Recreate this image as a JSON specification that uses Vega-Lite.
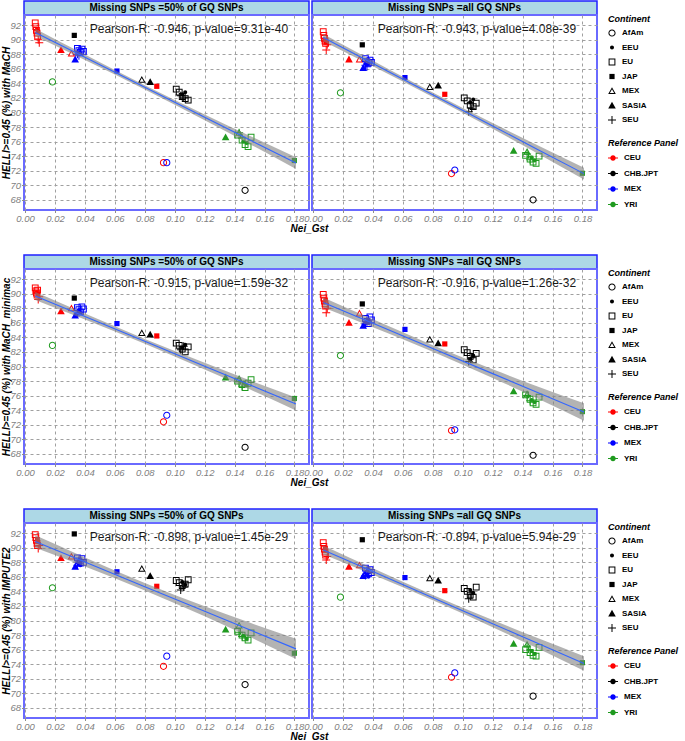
{
"$schema": "https://vega.github.io/schema/vega-lite/v6.json",
"padding": {"left": 0, "top": 0, "right": 2, "bottom": 0},
"columns": 2,
"spacing": {"row": 0, "column": 3},
"bounds": "flush",
"resolve": {"scale": {"fill": "independent", "shape": "independent"}},
"datasets": {
"pts": [
{"p":1,"c":"AfAm","r":"CEU","x":0.0925,"y":73.1},{"p":1,"c":"AfAm","r":"CHB.JPT","x":0.147,"y":69.3},{"p":1,"c":"AfAm","r":"MEX","x":0.0947,"y":73.1},{"p":1,"c":"AfAm","r":"YRI","x":0.0183,"y":84.2},
{"p":1,"c":"JAP","r":"CEU","x":0.088,"y":83.6},{"p":1,"c":"JAP","r":"CHB.JPT","x":0.0329,"y":90.6},{"p":1,"c":"JAP","r":"MEX","x":0.0614,"y":85.7},{"p":1,"c":"JAP","r":"YRI","x":0.1799,"y":73.4},
{"p":1,"c":"SASIA","r":"CEU","x":0.024,"y":88.6},{"p":1,"c":"SASIA","r":"CHB.JPT","x":0.0836,"y":84.2},{"p":1,"c":"SASIA","r":"MEX","x":0.0335,"y":87.3},{"p":1,"c":"SASIA","r":"YRI","x":0.134,"y":76.6},
{"p":1,"c":"MEX","r":"CEU","x":0.031,"y":88.1},{"p":1,"c":"MEX","r":"CHB.JPT","x":0.078,"y":84.5},{"p":1,"c":"MEX","r":"MEX","x":0.036,"y":88.4},{"p":1,"c":"MEX","r":"YRI","x":0.143,"y":77.2},
{"p":1,"c":"EU","r":"CEU","x":0.0068,"y":92.3},{"p":1,"c":"EU","r":"CEU","x":0.0072,"y":91.8},{"p":1,"c":"EU","r":"CEU","x":0.0076,"y":91.3},{"p":1,"c":"EU","r":"CEU","x":0.008,"y":90.9},{"p":1,"c":"EU","r":"CEU","x":0.0084,"y":90.5},
{"p":1,"c":"EU","r":"CHB.JPT","x":0.101,"y":83.2},{"p":1,"c":"EU","r":"CHB.JPT","x":0.103,"y":82.8},{"p":1,"c":"EU","r":"CHB.JPT","x":0.105,"y":82.2},{"p":1,"c":"EU","r":"CHB.JPT","x":0.107,"y":81.9},{"p":1,"c":"EU","r":"CHB.JPT","x":0.109,"y":81.7},
{"p":1,"c":"EU","r":"MEX","x":0.035,"y":88.8},{"p":1,"c":"EU","r":"MEX","x":0.036,"y":88.5},{"p":1,"c":"EU","r":"MEX","x":0.037,"y":88.3},{"p":1,"c":"EU","r":"MEX","x":0.038,"y":88.7},{"p":1,"c":"EU","r":"MEX","x":0.039,"y":88.4},
{"p":1,"c":"EU","r":"YRI","x":0.142,"y":76.9},{"p":1,"c":"EU","r":"YRI","x":0.145,"y":76.2},{"p":1,"c":"EU","r":"YRI","x":0.147,"y":75.6},{"p":1,"c":"EU","r":"YRI","x":0.149,"y":75.3},{"p":1,"c":"EU","r":"YRI","x":0.151,"y":76.6},
{"p":1,"c":"EEU","r":"CEU","x":0.0078,"y":91.4},{"p":1,"c":"EEU","r":"CEU","x":0.0082,"y":91.0},{"p":1,"c":"EEU","r":"CHB.JPT","x":0.105,"y":82.5},{"p":1,"c":"EEU","r":"CHB.JPT","x":0.107,"y":82.8},
{"p":1,"c":"EEU","r":"MEX","x":0.036,"y":88.2},{"p":1,"c":"EEU","r":"MEX","x":0.037,"y":88.0},{"p":1,"c":"EEU","r":"YRI","x":0.146,"y":76.0},{"p":1,"c":"EEU","r":"YRI","x":0.148,"y":75.8},
{"p":1,"c":"SEU","r":"CEU","x":0.0088,"y":90.0},{"p":1,"c":"SEU","r":"CEU","x":0.0095,"y":89.6},{"p":1,"c":"SEU","r":"CHB.JPT","x":0.104,"y":82.3},{"p":1,"c":"SEU","r":"CHB.JPT","x":0.106,"y":82.0},
{"p":1,"c":"SEU","r":"MEX","x":0.035,"y":88.0},{"p":1,"c":"SEU","r":"MEX","x":0.036,"y":87.8},{"p":1,"c":"SEU","r":"YRI","x":0.143,"y":77.2},{"p":1,"c":"SEU","r":"YRI","x":0.145,"y":76.5},

{"p":2,"c":"AfAm","r":"CEU","x":0.0925,"y":71.6},{"p":2,"c":"AfAm","r":"CHB.JPT","x":0.147,"y":68.0},{"p":2,"c":"AfAm","r":"MEX","x":0.0947,"y":72.1},{"p":2,"c":"AfAm","r":"YRI","x":0.0183,"y":82.7},
{"p":2,"c":"JAP","r":"CEU","x":0.088,"y":82.5},{"p":2,"c":"JAP","r":"CHB.JPT","x":0.0329,"y":89.3},{"p":2,"c":"JAP","r":"MEX","x":0.0614,"y":84.8},{"p":2,"c":"JAP","r":"YRI","x":0.1799,"y":71.65},
{"p":2,"c":"SASIA","r":"CEU","x":0.024,"y":87.3},{"p":2,"c":"SASIA","r":"CHB.JPT","x":0.0836,"y":83.7},{"p":2,"c":"SASIA","r":"MEX","x":0.0335,"y":86.1},{"p":2,"c":"SASIA","r":"YRI","x":0.134,"y":74.75},
{"p":2,"c":"MEX","r":"CEU","x":0.031,"y":87.3},{"p":2,"c":"MEX","r":"CHB.JPT","x":0.078,"y":83.5},{"p":2,"c":"MEX","r":"MEX","x":0.036,"y":87.0},{"p":2,"c":"MEX","r":"YRI","x":0.143,"y":74.6},
{"p":2,"c":"EU","r":"CEU","x":0.0068,"y":91.1},{"p":2,"c":"EU","r":"CEU","x":0.0072,"y":90.6},{"p":2,"c":"EU","r":"CEU","x":0.0076,"y":90.2},{"p":2,"c":"EU","r":"CEU","x":0.008,"y":89.8},{"p":2,"c":"EU","r":"CEU","x":0.0084,"y":89.5},
{"p":2,"c":"EU","r":"CHB.JPT","x":0.101,"y":82.0},{"p":2,"c":"EU","r":"CHB.JPT","x":0.103,"y":81.6},{"p":2,"c":"EU","r":"CHB.JPT","x":0.105,"y":81.0},{"p":2,"c":"EU","r":"CHB.JPT","x":0.107,"y":80.8},{"p":2,"c":"EU","r":"CHB.JPT","x":0.109,"y":81.3},
{"p":2,"c":"EU","r":"MEX","x":0.035,"y":87.4},{"p":2,"c":"EU","r":"MEX","x":0.036,"y":87.0},{"p":2,"c":"EU","r":"MEX","x":0.037,"y":86.8},{"p":2,"c":"EU","r":"MEX","x":0.038,"y":87.2},{"p":2,"c":"EU","r":"MEX","x":0.039,"y":86.9},
{"p":2,"c":"EU","r":"YRI","x":0.142,"y":74.1},{"p":2,"c":"EU","r":"YRI","x":0.145,"y":73.6},{"p":2,"c":"EU","r":"YRI","x":0.147,"y":73.2},{"p":2,"c":"EU","r":"YRI","x":0.149,"y":73.0},{"p":2,"c":"EU","r":"YRI","x":0.151,"y":74.0},
{"p":2,"c":"EEU","r":"CEU","x":0.0078,"y":90.0},{"p":2,"c":"EEU","r":"CEU","x":0.0082,"y":89.6},{"p":2,"c":"EEU","r":"CHB.JPT","x":0.105,"y":81.4},{"p":2,"c":"EEU","r":"CHB.JPT","x":0.107,"y":81.8},
{"p":2,"c":"EEU","r":"MEX","x":0.036,"y":86.6},{"p":2,"c":"EEU","r":"MEX","x":0.037,"y":86.9},{"p":2,"c":"EEU","r":"YRI","x":0.146,"y":73.8},{"p":2,"c":"EEU","r":"YRI","x":0.148,"y":73.4},
{"p":2,"c":"SEU","r":"CEU","x":0.0088,"y":88.6},{"p":2,"c":"SEU","r":"CEU","x":0.0095,"y":89.3},{"p":2,"c":"SEU","r":"CHB.JPT","x":0.104,"y":80.1},{"p":2,"c":"SEU","r":"CHB.JPT","x":0.106,"y":80.6},
{"p":2,"c":"SEU","r":"MEX","x":0.035,"y":86.5},{"p":2,"c":"SEU","r":"MEX","x":0.036,"y":86.3},{"p":2,"c":"SEU","r":"YRI","x":0.143,"y":74.3},{"p":2,"c":"SEU","r":"YRI","x":0.145,"y":73.5},

{"p":3,"c":"AfAm","r":"CEU","x":0.0925,"y":72.4},{"p":3,"c":"AfAm","r":"CHB.JPT","x":0.147,"y":68.9},{"p":3,"c":"AfAm","r":"MEX","x":0.0947,"y":73.3},{"p":3,"c":"AfAm","r":"YRI","x":0.0183,"y":82.9},
{"p":3,"c":"JAP","r":"CEU","x":0.088,"y":84.2},{"p":3,"c":"JAP","r":"CHB.JPT","x":0.0329,"y":89.4},{"p":3,"c":"JAP","r":"MEX","x":0.0614,"y":85.9},{"p":3,"c":"JAP","r":"YRI","x":0.1799,"y":75.6},
{"p":3,"c":"SASIA","r":"CEU","x":0.024,"y":87.6},{"p":3,"c":"SASIA","r":"CHB.JPT","x":0.0836,"y":84.4},{"p":3,"c":"SASIA","r":"MEX","x":0.0335,"y":87.0},{"p":3,"c":"SASIA","r":"YRI","x":0.134,"y":78.5},
{"p":3,"c":"MEX","r":"CEU","x":0.031,"y":88.0},{"p":3,"c":"MEX","r":"CHB.JPT","x":0.078,"y":84.6},{"p":3,"c":"MEX","r":"MEX","x":0.036,"y":87.6},{"p":3,"c":"MEX","r":"YRI","x":0.143,"y":78.3},
{"p":3,"c":"EU","r":"CEU","x":0.0068,"y":90.8},{"p":3,"c":"EU","r":"CEU","x":0.0072,"y":90.4},{"p":3,"c":"EU","r":"CEU","x":0.0076,"y":90.1},{"p":3,"c":"EU","r":"CEU","x":0.008,"y":89.8},{"p":3,"c":"EU","r":"CEU","x":0.0084,"y":90.5},
{"p":3,"c":"EU","r":"CHB.JPT","x":0.101,"y":83.2},{"p":3,"c":"EU","r":"CHB.JPT","x":0.103,"y":82.9},{"p":3,"c":"EU","r":"CHB.JPT","x":0.105,"y":82.4},{"p":3,"c":"EU","r":"CHB.JPT","x":0.107,"y":82.0},{"p":3,"c":"EU","r":"CHB.JPT","x":0.109,"y":82.7},
{"p":3,"c":"EU","r":"MEX","x":0.035,"y":88.1},{"p":3,"c":"EU","r":"MEX","x":0.036,"y":87.8},{"p":3,"c":"EU","r":"MEX","x":0.037,"y":87.5},{"p":3,"c":"EU","r":"MEX","x":0.038,"y":88.2},{"p":3,"c":"EU","r":"MEX","x":0.039,"y":87.9},
{"p":3,"c":"EU","r":"YRI","x":0.142,"y":78.0},{"p":3,"c":"EU","r":"YRI","x":0.145,"y":77.5},{"p":3,"c":"EU","r":"YRI","x":0.147,"y":77.1},{"p":3,"c":"EU","r":"YRI","x":0.149,"y":77.7},{"p":3,"c":"EU","r":"YRI","x":0.151,"y":78.2},
{"p":3,"c":"EEU","r":"CEU","x":0.0078,"y":90.2},{"p":3,"c":"EEU","r":"CEU","x":0.0082,"y":89.9},{"p":3,"c":"EEU","r":"CHB.JPT","x":0.105,"y":82.6},{"p":3,"c":"EEU","r":"CHB.JPT","x":0.107,"y":83.0},
{"p":3,"c":"EEU","r":"MEX","x":0.036,"y":87.6},{"p":3,"c":"EEU","r":"MEX","x":0.037,"y":87.3},{"p":3,"c":"EEU","r":"YRI","x":0.146,"y":77.8},{"p":3,"c":"EEU","r":"YRI","x":0.148,"y":77.4},
{"p":3,"c":"SEU","r":"CEU","x":0.0088,"y":89.2},{"p":3,"c":"SEU","r":"CEU","x":0.0095,"y":89.6},{"p":3,"c":"SEU","r":"CHB.JPT","x":0.104,"y":82.3},{"p":3,"c":"SEU","r":"CHB.JPT","x":0.106,"y":82.8},
{"p":3,"c":"SEU","r":"MEX","x":0.035,"y":87.2},{"p":3,"c":"SEU","r":"MEX","x":0.036,"y":87.4},{"p":3,"c":"SEU","r":"YRI","x":0.143,"y":77.9},{"p":3,"c":"SEU","r":"YRI","x":0.145,"y":77.3},

{"p":4,"c":"AfAm","r":"CEU","x":0.0925,"y":71.2},{"p":4,"c":"AfAm","r":"CHB.JPT","x":0.147,"y":67.8},{"p":4,"c":"AfAm","r":"MEX","x":0.0947,"y":71.3},{"p":4,"c":"AfAm","r":"YRI","x":0.0183,"y":81.5},
{"p":4,"c":"JAP","r":"CEU","x":0.088,"y":83.1},{"p":4,"c":"JAP","r":"CHB.JPT","x":0.0329,"y":88.6},{"p":4,"c":"JAP","r":"MEX","x":0.0614,"y":85.1},{"p":4,"c":"JAP","r":"YRI","x":0.1799,"y":73.8},
{"p":4,"c":"SASIA","r":"CEU","x":0.024,"y":86.0},{"p":4,"c":"SASIA","r":"CHB.JPT","x":0.0836,"y":83.2},{"p":4,"c":"SASIA","r":"MEX","x":0.0335,"y":85.6},{"p":4,"c":"SASIA","r":"YRI","x":0.134,"y":76.6},
{"p":4,"c":"MEX","r":"CEU","x":0.031,"y":87.3},{"p":4,"c":"MEX","r":"CHB.JPT","x":0.078,"y":83.7},{"p":4,"c":"MEX","r":"MEX","x":0.036,"y":86.3},{"p":4,"c":"MEX","r":"YRI","x":0.143,"y":76.2},
{"p":4,"c":"EU","r":"CEU","x":0.0068,"y":89.9},{"p":4,"c":"EU","r":"CEU","x":0.0072,"y":89.4},{"p":4,"c":"EU","r":"CEU","x":0.0076,"y":89.0},{"p":4,"c":"EU","r":"CEU","x":0.008,"y":88.6},{"p":4,"c":"EU","r":"CEU","x":0.0084,"y":88.3},
{"p":4,"c":"EU","r":"CHB.JPT","x":0.101,"y":82.3},{"p":4,"c":"EU","r":"CHB.JPT","x":0.103,"y":81.9},{"p":4,"c":"EU","r":"CHB.JPT","x":0.105,"y":81.4},{"p":4,"c":"EU","r":"CHB.JPT","x":0.107,"y":80.9},{"p":4,"c":"EU","r":"CHB.JPT","x":0.109,"y":81.8},
{"p":4,"c":"EU","r":"MEX","x":0.035,"y":86.6},{"p":4,"c":"EU","r":"MEX","x":0.036,"y":86.2},{"p":4,"c":"EU","r":"MEX","x":0.037,"y":85.9},{"p":4,"c":"EU","r":"MEX","x":0.038,"y":86.8},{"p":4,"c":"EU","r":"MEX","x":0.039,"y":86.4},
{"p":4,"c":"EU","r":"YRI","x":0.142,"y":76.1},{"p":4,"c":"EU","r":"YRI","x":0.145,"y":75.5},{"p":4,"c":"EU","r":"YRI","x":0.147,"y":75.0},{"p":4,"c":"EU","r":"YRI","x":0.149,"y":74.8},{"p":4,"c":"EU","r":"YRI","x":0.151,"y":75.8},
{"p":4,"c":"EEU","r":"CEU","x":0.0078,"y":88.8},{"p":4,"c":"EEU","r":"CEU","x":0.0082,"y":89.2},{"p":4,"c":"EEU","r":"CHB.JPT","x":0.105,"y":81.0},{"p":4,"c":"EEU","r":"CHB.JPT","x":0.107,"y":81.5},
{"p":4,"c":"EEU","r":"MEX","x":0.036,"y":86.0},{"p":4,"c":"EEU","r":"MEX","x":0.037,"y":86.4},{"p":4,"c":"EEU","r":"YRI","x":0.146,"y":75.4},{"p":4,"c":"EEU","r":"YRI","x":0.148,"y":75.1},
{"p":4,"c":"SEU","r":"CEU","x":0.0088,"y":87.4},{"p":4,"c":"SEU","r":"CEU","x":0.0095,"y":88.0},{"p":4,"c":"SEU","r":"CHB.JPT","x":0.104,"y":80.7},{"p":4,"c":"SEU","r":"CHB.JPT","x":0.106,"y":81.2},
{"p":4,"c":"SEU","r":"MEX","x":0.035,"y":85.8},{"p":4,"c":"SEU","r":"MEX","x":0.036,"y":86.1},{"p":4,"c":"SEU","r":"YRI","x":0.143,"y":76.0},{"p":4,"c":"SEU","r":"YRI","x":0.145,"y":75.3},

{"p":5,"c":"AfAm","r":"CEU","x":0.0925,"y":73.7},{"p":5,"c":"AfAm","r":"CHB.JPT","x":0.147,"y":71.2},{"p":5,"c":"AfAm","r":"MEX","x":0.0947,"y":75.1},{"p":5,"c":"AfAm","r":"YRI","x":0.0183,"y":84.5},
{"p":5,"c":"JAP","r":"CEU","x":0.088,"y":84.7},{"p":5,"c":"JAP","r":"CHB.JPT","x":0.0329,"y":91.9},{"p":5,"c":"JAP","r":"MEX","x":0.0614,"y":86.7},{"p":5,"c":"JAP","r":"YRI","x":0.1799,"y":75.5},
{"p":5,"c":"SASIA","r":"CEU","x":0.024,"y":88.6},{"p":5,"c":"SASIA","r":"CHB.JPT","x":0.0836,"y":86.1},{"p":5,"c":"SASIA","r":"MEX","x":0.0335,"y":87.4},{"p":5,"c":"SASIA","r":"YRI","x":0.134,"y":78.75},
{"p":5,"c":"MEX","r":"CEU","x":0.031,"y":88.8},{"p":5,"c":"MEX","r":"CHB.JPT","x":0.078,"y":87.1},{"p":5,"c":"MEX","r":"MEX","x":0.036,"y":88.2},{"p":5,"c":"MEX","r":"YRI","x":0.143,"y":79.3},
{"p":5,"c":"EU","r":"CEU","x":0.0068,"y":91.8},{"p":5,"c":"EU","r":"CEU","x":0.0072,"y":91.4},{"p":5,"c":"EU","r":"CEU","x":0.0076,"y":91.0},{"p":5,"c":"EU","r":"CEU","x":0.008,"y":90.6},{"p":5,"c":"EU","r":"CEU","x":0.0084,"y":90.3},
{"p":5,"c":"EU","r":"CHB.JPT","x":0.101,"y":85.5},{"p":5,"c":"EU","r":"CHB.JPT","x":0.103,"y":85.2},{"p":5,"c":"EU","r":"CHB.JPT","x":0.105,"y":84.8},{"p":5,"c":"EU","r":"CHB.JPT","x":0.107,"y":85.0},{"p":5,"c":"EU","r":"CHB.JPT","x":0.109,"y":85.6},
{"p":5,"c":"EU","r":"MEX","x":0.035,"y":88.6},{"p":5,"c":"EU","r":"MEX","x":0.036,"y":88.2},{"p":5,"c":"EU","r":"MEX","x":0.037,"y":87.9},{"p":5,"c":"EU","r":"MEX","x":0.038,"y":88.5},{"p":5,"c":"EU","r":"MEX","x":0.039,"y":88.0},
{"p":5,"c":"EU","r":"YRI","x":0.142,"y":78.5},{"p":5,"c":"EU","r":"YRI","x":0.145,"y":78.0},{"p":5,"c":"EU","r":"YRI","x":0.147,"y":77.6},{"p":5,"c":"EU","r":"YRI","x":0.149,"y":77.3},{"p":5,"c":"EU","r":"YRI","x":0.151,"y":78.3},
{"p":5,"c":"EEU","r":"CEU","x":0.0078,"y":91.2},{"p":5,"c":"EEU","r":"CEU","x":0.0082,"y":90.8},{"p":5,"c":"EEU","r":"CHB.JPT","x":0.105,"y":85.3},{"p":5,"c":"EEU","r":"CHB.JPT","x":0.107,"y":84.9},
{"p":5,"c":"EEU","r":"MEX","x":0.036,"y":87.8},{"p":5,"c":"EEU","r":"MEX","x":0.037,"y":87.6},{"p":5,"c":"EEU","r":"YRI","x":0.146,"y":77.9},{"p":5,"c":"EEU","r":"YRI","x":0.148,"y":77.5},
{"p":5,"c":"SEU","r":"CEU","x":0.0088,"y":89.9},{"p":5,"c":"SEU","r":"CEU","x":0.0095,"y":90.3},{"p":5,"c":"SEU","r":"CHB.JPT","x":0.104,"y":84.2},{"p":5,"c":"SEU","r":"CHB.JPT","x":0.106,"y":84.6},
{"p":5,"c":"SEU","r":"MEX","x":0.035,"y":87.6},{"p":5,"c":"SEU","r":"MEX","x":0.036,"y":87.9},{"p":5,"c":"SEU","r":"YRI","x":0.143,"y":78.4},{"p":5,"c":"SEU","r":"YRI","x":0.145,"y":77.8},

{"p":6,"c":"AfAm","r":"CEU","x":0.0925,"y":72.2},{"p":6,"c":"AfAm","r":"CHB.JPT","x":0.147,"y":69.6},{"p":6,"c":"AfAm","r":"MEX","x":0.0947,"y":72.8},{"p":6,"c":"AfAm","r":"YRI","x":0.0183,"y":83.2},
{"p":6,"c":"JAP","r":"CEU","x":0.088,"y":84.1},{"p":6,"c":"JAP","r":"CHB.JPT","x":0.0329,"y":91.1},{"p":6,"c":"JAP","r":"MEX","x":0.0614,"y":85.9},{"p":6,"c":"JAP","r":"YRI","x":0.1799,"y":74.2},
{"p":6,"c":"SASIA","r":"CEU","x":0.024,"y":87.4},{"p":6,"c":"SASIA","r":"CHB.JPT","x":0.0836,"y":85.5},{"p":6,"c":"SASIA","r":"MEX","x":0.0335,"y":86.1},{"p":6,"c":"SASIA","r":"YRI","x":0.134,"y":76.8},
{"p":6,"c":"MEX","r":"CEU","x":0.031,"y":87.6},{"p":6,"c":"MEX","r":"CHB.JPT","x":0.078,"y":85.8},{"p":6,"c":"MEX","r":"MEX","x":0.036,"y":86.8},{"p":6,"c":"MEX","r":"YRI","x":0.143,"y":76.7},
{"p":6,"c":"EU","r":"CEU","x":0.0068,"y":90.7},{"p":6,"c":"EU","r":"CEU","x":0.0072,"y":90.2},{"p":6,"c":"EU","r":"CEU","x":0.0076,"y":89.8},{"p":6,"c":"EU","r":"CEU","x":0.008,"y":89.4},{"p":6,"c":"EU","r":"CEU","x":0.0084,"y":89.0},
{"p":6,"c":"EU","r":"CHB.JPT","x":0.101,"y":84.4},{"p":6,"c":"EU","r":"CHB.JPT","x":0.103,"y":84.0},{"p":6,"c":"EU","r":"CHB.JPT","x":0.105,"y":83.5},{"p":6,"c":"EU","r":"CHB.JPT","x":0.107,"y":83.2},{"p":6,"c":"EU","r":"CHB.JPT","x":0.109,"y":84.6},
{"p":6,"c":"EU","r":"MEX","x":0.035,"y":87.2},{"p":6,"c":"EU","r":"MEX","x":0.036,"y":86.8},{"p":6,"c":"EU","r":"MEX","x":0.037,"y":86.4},{"p":6,"c":"EU","r":"MEX","x":0.038,"y":87.0},{"p":6,"c":"EU","r":"MEX","x":0.039,"y":86.6},
{"p":6,"c":"EU","r":"YRI","x":0.142,"y":76.0},{"p":6,"c":"EU","r":"YRI","x":0.145,"y":75.6},{"p":6,"c":"EU","r":"YRI","x":0.147,"y":75.2},{"p":6,"c":"EU","r":"YRI","x":0.149,"y":75.1},{"p":6,"c":"EU","r":"YRI","x":0.151,"y":76.3},
{"p":6,"c":"EEU","r":"CEU","x":0.0078,"y":90.0},{"p":6,"c":"EEU","r":"CEU","x":0.0082,"y":89.6},{"p":6,"c":"EEU","r":"CHB.JPT","x":0.105,"y":84.2},{"p":6,"c":"EEU","r":"CHB.JPT","x":0.107,"y":83.8},
{"p":6,"c":"EEU","r":"MEX","x":0.036,"y":86.3},{"p":6,"c":"EEU","r":"MEX","x":0.037,"y":86.0},{"p":6,"c":"EEU","r":"YRI","x":0.146,"y":75.8},{"p":6,"c":"EEU","r":"YRI","x":0.148,"y":75.4},
{"p":6,"c":"SEU","r":"CEU","x":0.0088,"y":88.3},{"p":6,"c":"SEU","r":"CEU","x":0.0095,"y":88.8},{"p":6,"c":"SEU","r":"CHB.JPT","x":0.104,"y":83.0},{"p":6,"c":"SEU","r":"CHB.JPT","x":0.106,"y":83.6},
{"p":6,"c":"SEU","r":"MEX","x":0.035,"y":86.2},{"p":6,"c":"SEU","r":"MEX","x":0.036,"y":86.5},{"p":6,"c":"SEU","r":"YRI","x":0.143,"y":76.5},{"p":6,"c":"SEU","r":"YRI","x":0.145,"y":75.9}
],
"fit": [
{"p":1,"x":0.0068,"f":91.0,"lo":90.5,"hi":91.5},{"p":1,"x":0.04,"f":87.58,"lo":87.2,"hi":87.96},{"p":1,"x":0.08,"f":83.46,"lo":83.16,"hi":83.76},{"p":1,"x":0.12,"f":79.34,"lo":78.94,"hi":79.74},{"p":1,"x":0.15,"f":76.24,"lo":75.68,"hi":76.8},{"p":1,"x":0.181,"f":73.05,"lo":72.25,"hi":73.85},
{"p":2,"x":0.0068,"f":90.3,"lo":89.8,"hi":90.8},{"p":2,"x":0.04,"f":86.74,"lo":86.36,"hi":87.12},{"p":2,"x":0.08,"f":82.44,"lo":82.14,"hi":82.74},{"p":2,"x":0.12,"f":78.15,"lo":77.75,"hi":78.55},{"p":2,"x":0.15,"f":74.93,"lo":74.37,"hi":75.49},{"p":2,"x":0.181,"f":71.6,"lo":70.8,"hi":72.4},
{"p":3,"x":0.0068,"f":89.7,"lo":89.15,"hi":90.25},{"p":3,"x":0.04,"f":86.87,"lo":86.45,"hi":87.29},{"p":3,"x":0.08,"f":83.46,"lo":83.13,"hi":83.79},{"p":3,"x":0.12,"f":80.05,"lo":79.6,"hi":80.5},{"p":3,"x":0.15,"f":77.49,"lo":76.87,"hi":78.11},{"p":3,"x":0.181,"f":74.85,"lo":73.95,"hi":75.75},
{"p":4,"x":0.0068,"f":88.8,"lo":88.1,"hi":89.5},{"p":4,"x":0.04,"f":85.93,"lo":85.38,"hi":86.48},{"p":4,"x":0.08,"f":82.48,"lo":82.03,"hi":82.93},{"p":4,"x":0.12,"f":79.02,"lo":78.42,"hi":79.62},{"p":4,"x":0.15,"f":76.43,"lo":75.6,"hi":77.26},{"p":4,"x":0.181,"f":73.75,"lo":72.55,"hi":74.95},
{"p":5,"x":0.0068,"f":90.85,"lo":90.0,"hi":91.7},{"p":5,"x":0.04,"f":88.04,"lo":87.41,"hi":88.67},{"p":5,"x":0.08,"f":84.65,"lo":84.13,"hi":85.17},{"p":5,"x":0.12,"f":81.27,"lo":80.57,"hi":81.97},{"p":5,"x":0.15,"f":78.73,"lo":77.75,"hi":79.71},{"p":5,"x":0.181,"f":76.1,"lo":74.7,"hi":77.5},
{"p":6,"x":0.0068,"f":89.7,"lo":89.1,"hi":90.3},{"p":6,"x":0.04,"f":86.73,"lo":86.28,"hi":87.18},{"p":6,"x":0.08,"f":83.14,"lo":82.77,"hi":83.51},{"p":6,"x":0.12,"f":79.56,"lo":79.06,"hi":80.06},{"p":6,"x":0.15,"f":76.88,"lo":76.18,"hi":77.58},{"p":6,"x":0.181,"f":74.1,"lo":73.1,"hi":75.1}
],
"ann": [
{"p":1,"t":"Pearson-R: -0.946, p-value=9.31e-40"},
{"p":2,"t":"Pearson-R: -0.943, p-value=4.08e-39"},
{"p":3,"t":"Pearson-R: -0.915, p-value=1.59e-32"},
{"p":4,"t":"Pearson-R: -0.916, p-value=1.26e-32"},
{"p":5,"t":"Pearson-R: -0.898, p-value=1.45e-29"},
{"p":6,"t":"Pearson-R: -0.894, p-value=5.94e-29"}
]
},
"concat": [
{"width": 285, "height": 14, "data": {"values": [{"t": "Missing SNPs =50% of GQ SNPs"}]}, "mark": {"type": "text", "fontSize": 10, "fontWeight": "bold", "color": "black"}, "encoding": {"text": {"field": "t"}}, "view": {"fill": "#add8e6", "stroke": "#2020ff", "strokeWidth": 1.5}},
{"width": 285, "height": 14, "data": {"values": [{"t": "Missing SNPs =all GQ SNPs"}]}, "mark": {"type": "text", "fontSize": 10, "fontWeight": "bold", "color": "black"}, "encoding": {"text": {"field": "t"}}, "view": {"fill": "#add8e6", "stroke": "#2020ff", "strokeWidth": 1.5}},

{"width": 285, "height": 195, "layer": [
 {"data": {"name": "pts"}, "transform": [{"filter": "datum.p==1"}], "mark": {"type": "point", "filled": true, "size": 64, "opacity": 1},
  "encoding": {
   "x": {"field": "x", "type": "quantitative", "title": "Nei_Gst", "scale": {"domain": [-0.0007, 0.1897], "nice": false, "zero": false}, "axis": {"values": [0,0.02,0.04,0.06,0.08,0.1,0.12,0.14,0.16,0.18], "tickCount": 30, "format": ".2f", "labelOverlap": false, "titleAnchor": "end", "titleAlign": "center"}},
   "y": {"field": "y", "type": "quantitative", "title": "HELLI>=0.45 (%) with MaCH", "scale": {"domain": [66.6, 93.4], "nice": false, "zero": false}, "axis": {"values": [68,70,72,74,76,78,80,82,84,86,88,90,92], "tickCount": 30, "format": "d", "labelOverlap": false}},
   "shape": {"field": "c", "type": "nominal", "title": "Continent", "legend": null, "scale": {"domain": ["AfAm","EEU","EU","JAP","MEX","SASIA","SEU"], "range": ["M0.9,0A0.9,0.9,0,1,1,-0.9,0A0.9,0.9,0,1,1,0.9,0ZM0.65,0A0.65,0.65,0,1,0,-0.65,0A0.65,0.65,0,1,0,0.65,0Z","M0.5,0A0.5,0.5,0,1,1,-0.5,0A0.5,0.5,0,1,1,0.5,0Z","M-0.85,-0.85H0.85V0.85H-0.85ZM-0.6,-0.6V0.6H0.6V-0.6Z","M-0.65,-0.65H0.65V0.65H-0.65Z","M0,-0.95L0.95,0.75L-0.95,0.75ZM0,-0.45L-0.53,0.5L0.53,0.5Z","M0,-0.95L0.95,0.75L-0.95,0.75Z","M-0.125,-1H0.125V-0.125H1V0.125H0.125V1H-0.125V0.125H-1V-0.125H-0.125Z"]}},
   "fill": {"field": "r", "type": "nominal", "title": "Reference Panel", "legend": null, "scale": {"domain": ["CEU","CHB.JPT","MEX","YRI"], "range": ["#ff0000","#000000","#0000ff","#1f9a1f"]}}
  }},
 {"data": {"name": "fit"}, "transform": [{"filter": "datum.p==1"}], "mark": {"type": "area", "color": "#808080", "opacity": 0.6, "interpolate": "monotone"}, "encoding": {"x": {"field": "x", "type": "quantitative", "title": "Nei_Gst"}, "y": {"field": "lo", "type": "quantitative", "title": "HELLI>=0.45 (%) with MaCH"}, "y2": {"field": "hi"}}},
 {"data": {"name": "fit"}, "transform": [{"filter": "datum.p==1"}], "mark": {"type": "line", "color": "#3366ff", "strokeWidth": 1.1}, "encoding": {"x": {"field": "x", "type": "quantitative", "title": "Nei_Gst"}, "y": {"field": "f", "type": "quantitative", "title": "HELLI>=0.45 (%) with MaCH"}}},
 {"data": {"name": "ann"}, "transform": [{"filter": "datum.p==1"}], "mark": {"type": "text", "fontSize": 12, "color": "#1a1a1a"}, "encoding": {"x": {"datum": 0.1095, "type": "quantitative", "title": "Nei_Gst"}, "y": {"datum": 91.45, "type": "quantitative", "title": "HELLI>=0.45 (%) with MaCH"}, "text": {"field": "t"}}}
]},

{"width": 285, "height": 195, "layer": [
 {"data": {"name": "pts"}, "transform": [{"filter": "datum.p==2"}], "mark": {"type": "point", "filled": true, "size": 64, "opacity": 1},
  "encoding": {
   "x": {"field": "x", "type": "quantitative", "title": null, "scale": {"domain": [-0.0007, 0.1897], "nice": false, "zero": false}, "axis": {"values": [0,0.02,0.04,0.06,0.08,0.1,0.12,0.14,0.16,0.18], "tickCount": 30, "format": ".2f", "labelOverlap": false}},
   "y": {"field": "y", "type": "quantitative", "title": null, "scale": {"domain": [66.6, 93.4], "nice": false, "zero": false}, "axis": {"values": [68,70,72,74,76,78,80,82,84,86,88,90,92], "tickCount": 30, "labels": false, "ticks": false}},
   "shape": {"field": "c", "type": "nominal", "title": "Continent", "scale": {"domain": ["AfAm","EEU","EU","JAP","MEX","SASIA","SEU"], "range": ["M0.9,0A0.9,0.9,0,1,1,-0.9,0A0.9,0.9,0,1,1,0.9,0ZM0.65,0A0.65,0.65,0,1,0,-0.65,0A0.65,0.65,0,1,0,0.65,0Z","M0.5,0A0.5,0.5,0,1,1,-0.5,0A0.5,0.5,0,1,1,0.5,0Z","M-0.85,-0.85H0.85V0.85H-0.85ZM-0.6,-0.6V0.6H0.6V-0.6Z","M-0.65,-0.65H0.65V0.65H-0.65Z","M0,-0.95L0.95,0.75L-0.95,0.75ZM0,-0.45L-0.53,0.5L0.53,0.5Z","M0,-0.95L0.95,0.75L-0.95,0.75Z","M-0.125,-1H0.125V-0.125H1V0.125H0.125V1H-0.125V0.125H-1V-0.125H-0.125Z"]}},
   "fill": {"field": "r", "type": "nominal", "title": ["", "Reference Panel"], "legend": {"symbolType": "M-1,-0.12H1V0.12H-1ZM0.55,0A0.55,0.55,0,1,1,-0.55,0A0.55,0.55,0,1,1,0.55,0Z", "symbolSize": 100, "titleLineHeight": 7}, "scale": {"domain": ["CEU","CHB.JPT","MEX","YRI"], "range": ["#ff0000","#000000","#0000ff","#1f9a1f"]}}
  }},
 {"data": {"name": "fit"}, "transform": [{"filter": "datum.p==2"}], "mark": {"type": "area", "color": "#808080", "opacity": 0.6, "interpolate": "monotone"}, "encoding": {"x": {"field": "x", "type": "quantitative", "title": null}, "y": {"field": "lo", "type": "quantitative", "title": null}, "y2": {"field": "hi"}}},
 {"data": {"name": "fit"}, "transform": [{"filter": "datum.p==2"}], "mark": {"type": "line", "color": "#3366ff", "strokeWidth": 1.1}, "encoding": {"x": {"field": "x", "type": "quantitative", "title": null}, "y": {"field": "f", "type": "quantitative", "title": null}}},
 {"data": {"name": "ann"}, "transform": [{"filter": "datum.p==2"}], "mark": {"type": "text", "fontSize": 12, "color": "#1a1a1a"}, "encoding": {"x": {"datum": 0.1095, "type": "quantitative", "title": null}, "y": {"datum": 91.45, "type": "quantitative", "title": null}, "text": {"field": "t"}}}
]},

{"width": 285, "height": 44.5, "data": {"values": [{"t": ""}]}, "mark": {"type": "text"}, "encoding": {"text": {"field": "t"}}, "view": {"stroke": null}},
{"width": 285, "height": 44.5, "data": {"values": [{"t": ""}]}, "mark": {"type": "text"}, "encoding": {"text": {"field": "t"}}, "view": {"stroke": null}},

{"width": 285, "height": 14, "data": {"values": [{"t": "Missing SNPs =50% of GQ SNPs"}]}, "mark": {"type": "text", "fontSize": 10, "fontWeight": "bold", "color": "black"}, "encoding": {"text": {"field": "t"}}, "view": {"fill": "#add8e6", "stroke": "#2020ff", "strokeWidth": 1.5}},
{"width": 285, "height": 14, "data": {"values": [{"t": "Missing SNPs =all GQ SNPs"}]}, "mark": {"type": "text", "fontSize": 10, "fontWeight": "bold", "color": "black"}, "encoding": {"text": {"field": "t"}}, "view": {"fill": "#add8e6", "stroke": "#2020ff", "strokeWidth": 1.5}},

{"width": 285, "height": 195, "layer": [
 {"data": {"name": "pts"}, "transform": [{"filter": "datum.p==3"}], "mark": {"type": "point", "filled": true, "size": 64, "opacity": 1},
  "encoding": {
   "x": {"field": "x", "type": "quantitative", "title": "Nei_Gst", "scale": {"domain": [-0.0007, 0.1897], "nice": false, "zero": false}, "axis": {"values": [0,0.02,0.04,0.06,0.08,0.1,0.12,0.14,0.16,0.18], "tickCount": 30, "format": ".2f", "labelOverlap": false, "titleAnchor": "end", "titleAlign": "center"}},
   "y": {"field": "y", "type": "quantitative", "title": "HELLI>=0.45 (%) with MaCH_minimac", "scale": {"domain": [66.6, 93.4], "nice": false, "zero": false}, "axis": {"values": [68,70,72,74,76,78,80,82,84,86,88,90,92], "tickCount": 30, "format": "d", "labelOverlap": false}},
   "shape": {"field": "c", "type": "nominal", "title": "Continent", "legend": null, "scale": {"domain": ["AfAm","EEU","EU","JAP","MEX","SASIA","SEU"], "range": ["M0.9,0A0.9,0.9,0,1,1,-0.9,0A0.9,0.9,0,1,1,0.9,0ZM0.65,0A0.65,0.65,0,1,0,-0.65,0A0.65,0.65,0,1,0,0.65,0Z","M0.5,0A0.5,0.5,0,1,1,-0.5,0A0.5,0.5,0,1,1,0.5,0Z","M-0.85,-0.85H0.85V0.85H-0.85ZM-0.6,-0.6V0.6H0.6V-0.6Z","M-0.65,-0.65H0.65V0.65H-0.65Z","M0,-0.95L0.95,0.75L-0.95,0.75ZM0,-0.45L-0.53,0.5L0.53,0.5Z","M0,-0.95L0.95,0.75L-0.95,0.75Z","M-0.125,-1H0.125V-0.125H1V0.125H0.125V1H-0.125V0.125H-1V-0.125H-0.125Z"]}},
   "fill": {"field": "r", "type": "nominal", "title": "Reference Panel", "legend": null, "scale": {"domain": ["CEU","CHB.JPT","MEX","YRI"], "range": ["#ff0000","#000000","#0000ff","#1f9a1f"]}}
  }},
 {"data": {"name": "fit"}, "transform": [{"filter": "datum.p==3"}], "mark": {"type": "area", "color": "#808080", "opacity": 0.6, "interpolate": "monotone"}, "encoding": {"x": {"field": "x", "type": "quantitative", "title": "Nei_Gst"}, "y": {"field": "lo", "type": "quantitative", "title": "HELLI>=0.45 (%) with MaCH_minimac"}, "y2": {"field": "hi"}}},
 {"data": {"name": "fit"}, "transform": [{"filter": "datum.p==3"}], "mark": {"type": "line", "color": "#3366ff", "strokeWidth": 1.1}, "encoding": {"x": {"field": "x", "type": "quantitative", "title": "Nei_Gst"}, "y": {"field": "f", "type": "quantitative", "title": "HELLI>=0.45 (%) with MaCH_minimac"}}},
 {"data": {"name": "ann"}, "transform": [{"filter": "datum.p==3"}], "mark": {"type": "text", "fontSize": 12, "color": "#1a1a1a"}, "encoding": {"x": {"datum": 0.1095, "type": "quantitative", "title": "Nei_Gst"}, "y": {"datum": 91.45, "type": "quantitative", "title": "HELLI>=0.45 (%) with MaCH_minimac"}, "text": {"field": "t"}}}
]},

{"width": 285, "height": 195, "layer": [
 {"data": {"name": "pts"}, "transform": [{"filter": "datum.p==4"}], "mark": {"type": "point", "filled": true, "size": 64, "opacity": 1},
  "encoding": {
   "x": {"field": "x", "type": "quantitative", "title": null, "scale": {"domain": [-0.0007, 0.1897], "nice": false, "zero": false}, "axis": {"values": [0,0.02,0.04,0.06,0.08,0.1,0.12,0.14,0.16,0.18], "tickCount": 30, "format": ".2f", "labelOverlap": false}},
   "y": {"field": "y", "type": "quantitative", "title": null, "scale": {"domain": [66.6, 93.4], "nice": false, "zero": false}, "axis": {"values": [68,70,72,74,76,78,80,82,84,86,88,90,92], "tickCount": 30, "labels": false, "ticks": false}},
   "shape": {"field": "c", "type": "nominal", "title": "Continent", "scale": {"domain": ["AfAm","EEU","EU","JAP","MEX","SASIA","SEU"], "range": ["M0.9,0A0.9,0.9,0,1,1,-0.9,0A0.9,0.9,0,1,1,0.9,0ZM0.65,0A0.65,0.65,0,1,0,-0.65,0A0.65,0.65,0,1,0,0.65,0Z","M0.5,0A0.5,0.5,0,1,1,-0.5,0A0.5,0.5,0,1,1,0.5,0Z","M-0.85,-0.85H0.85V0.85H-0.85ZM-0.6,-0.6V0.6H0.6V-0.6Z","M-0.65,-0.65H0.65V0.65H-0.65Z","M0,-0.95L0.95,0.75L-0.95,0.75ZM0,-0.45L-0.53,0.5L0.53,0.5Z","M0,-0.95L0.95,0.75L-0.95,0.75Z","M-0.125,-1H0.125V-0.125H1V0.125H0.125V1H-0.125V0.125H-1V-0.125H-0.125Z"]}},
   "fill": {"field": "r", "type": "nominal", "title": ["", "Reference Panel"], "legend": {"symbolType": "M-1,-0.12H1V0.12H-1ZM0.55,0A0.55,0.55,0,1,1,-0.55,0A0.55,0.55,0,1,1,0.55,0Z", "symbolSize": 100, "titleLineHeight": 7}, "scale": {"domain": ["CEU","CHB.JPT","MEX","YRI"], "range": ["#ff0000","#000000","#0000ff","#1f9a1f"]}}
  }},
 {"data": {"name": "fit"}, "transform": [{"filter": "datum.p==4"}], "mark": {"type": "area", "color": "#808080", "opacity": 0.6, "interpolate": "monotone"}, "encoding": {"x": {"field": "x", "type": "quantitative", "title": null}, "y": {"field": "lo", "type": "quantitative", "title": null}, "y2": {"field": "hi"}}},
 {"data": {"name": "fit"}, "transform": [{"filter": "datum.p==4"}], "mark": {"type": "line", "color": "#3366ff", "strokeWidth": 1.1}, "encoding": {"x": {"field": "x", "type": "quantitative", "title": null}, "y": {"field": "f", "type": "quantitative", "title": null}}},
 {"data": {"name": "ann"}, "transform": [{"filter": "datum.p==4"}], "mark": {"type": "text", "fontSize": 12, "color": "#1a1a1a"}, "encoding": {"x": {"datum": 0.1095, "type": "quantitative", "title": null}, "y": {"datum": 91.45, "type": "quantitative", "title": null}, "text": {"field": "t"}}}
]},

{"width": 285, "height": 44.5, "data": {"values": [{"t": ""}]}, "mark": {"type": "text"}, "encoding": {"text": {"field": "t"}}, "view": {"stroke": null}},
{"width": 285, "height": 44.5, "data": {"values": [{"t": ""}]}, "mark": {"type": "text"}, "encoding": {"text": {"field": "t"}}, "view": {"stroke": null}},

{"width": 285, "height": 14, "data": {"values": [{"t": "Missing SNPs =50% of GQ SNPs"}]}, "mark": {"type": "text", "fontSize": 10, "fontWeight": "bold", "color": "black"}, "encoding": {"text": {"field": "t"}}, "view": {"fill": "#add8e6", "stroke": "#2020ff", "strokeWidth": 1.5}},
{"width": 285, "height": 14, "data": {"values": [{"t": "Missing SNPs =all GQ SNPs"}]}, "mark": {"type": "text", "fontSize": 10, "fontWeight": "bold", "color": "black"}, "encoding": {"text": {"field": "t"}}, "view": {"fill": "#add8e6", "stroke": "#2020ff", "strokeWidth": 1.5}},

{"width": 285, "height": 195, "layer": [
 {"data": {"name": "pts"}, "transform": [{"filter": "datum.p==5"}], "mark": {"type": "point", "filled": true, "size": 64, "opacity": 1},
  "encoding": {
   "x": {"field": "x", "type": "quantitative", "title": "Nei_Gst", "scale": {"domain": [-0.0007, 0.1897], "nice": false, "zero": false}, "axis": {"values": [0,0.02,0.04,0.06,0.08,0.1,0.12,0.14,0.16,0.18], "tickCount": 30, "format": ".2f", "labelOverlap": false, "titleAnchor": "end", "titleAlign": "center"}},
   "y": {"field": "y", "type": "quantitative", "title": "HELLI>=0.45 (%) with IMPUTE2", "scale": {"domain": [66.6, 93.4], "nice": false, "zero": false}, "axis": {"values": [68,70,72,74,76,78,80,82,84,86,88,90,92], "tickCount": 30, "format": "d", "labelOverlap": false}},
   "shape": {"field": "c", "type": "nominal", "title": "Continent", "legend": null, "scale": {"domain": ["AfAm","EEU","EU","JAP","MEX","SASIA","SEU"], "range": ["M0.9,0A0.9,0.9,0,1,1,-0.9,0A0.9,0.9,0,1,1,0.9,0ZM0.65,0A0.65,0.65,0,1,0,-0.65,0A0.65,0.65,0,1,0,0.65,0Z","M0.5,0A0.5,0.5,0,1,1,-0.5,0A0.5,0.5,0,1,1,0.5,0Z","M-0.85,-0.85H0.85V0.85H-0.85ZM-0.6,-0.6V0.6H0.6V-0.6Z","M-0.65,-0.65H0.65V0.65H-0.65Z","M0,-0.95L0.95,0.75L-0.95,0.75ZM0,-0.45L-0.53,0.5L0.53,0.5Z","M0,-0.95L0.95,0.75L-0.95,0.75Z","M-0.125,-1H0.125V-0.125H1V0.125H0.125V1H-0.125V0.125H-1V-0.125H-0.125Z"]}},
   "fill": {"field": "r", "type": "nominal", "title": "Reference Panel", "legend": null, "scale": {"domain": ["CEU","CHB.JPT","MEX","YRI"], "range": ["#ff0000","#000000","#0000ff","#1f9a1f"]}}
  }},
 {"data": {"name": "fit"}, "transform": [{"filter": "datum.p==5"}], "mark": {"type": "area", "color": "#808080", "opacity": 0.6, "interpolate": "monotone"}, "encoding": {"x": {"field": "x", "type": "quantitative", "title": "Nei_Gst"}, "y": {"field": "lo", "type": "quantitative", "title": "HELLI>=0.45 (%) with IMPUTE2"}, "y2": {"field": "hi"}}},
 {"data": {"name": "fit"}, "transform": [{"filter": "datum.p==5"}], "mark": {"type": "line", "color": "#3366ff", "strokeWidth": 1.1}, "encoding": {"x": {"field": "x", "type": "quantitative", "title": "Nei_Gst"}, "y": {"field": "f", "type": "quantitative", "title": "HELLI>=0.45 (%) with IMPUTE2"}}},
 {"data": {"name": "ann"}, "transform": [{"filter": "datum.p==5"}], "mark": {"type": "text", "fontSize": 12, "color": "#1a1a1a"}, "encoding": {"x": {"datum": 0.1095, "type": "quantitative", "title": "Nei_Gst"}, "y": {"datum": 91.45, "type": "quantitative", "title": "HELLI>=0.45 (%) with IMPUTE2"}, "text": {"field": "t"}}}
]},

{"width": 285, "height": 195, "layer": [
 {"data": {"name": "pts"}, "transform": [{"filter": "datum.p==6"}], "mark": {"type": "point", "filled": true, "size": 64, "opacity": 1},
  "encoding": {
   "x": {"field": "x", "type": "quantitative", "title": null, "scale": {"domain": [-0.0007, 0.1897], "nice": false, "zero": false}, "axis": {"values": [0,0.02,0.04,0.06,0.08,0.1,0.12,0.14,0.16,0.18], "tickCount": 30, "format": ".2f", "labelOverlap": false}},
   "y": {"field": "y", "type": "quantitative", "title": null, "scale": {"domain": [66.6, 93.4], "nice": false, "zero": false}, "axis": {"values": [68,70,72,74,76,78,80,82,84,86,88,90,92], "tickCount": 30, "labels": false, "ticks": false}},
   "shape": {"field": "c", "type": "nominal", "title": "Continent", "scale": {"domain": ["AfAm","EEU","EU","JAP","MEX","SASIA","SEU"], "range": ["M0.9,0A0.9,0.9,0,1,1,-0.9,0A0.9,0.9,0,1,1,0.9,0ZM0.65,0A0.65,0.65,0,1,0,-0.65,0A0.65,0.65,0,1,0,0.65,0Z","M0.5,0A0.5,0.5,0,1,1,-0.5,0A0.5,0.5,0,1,1,0.5,0Z","M-0.85,-0.85H0.85V0.85H-0.85ZM-0.6,-0.6V0.6H0.6V-0.6Z","M-0.65,-0.65H0.65V0.65H-0.65Z","M0,-0.95L0.95,0.75L-0.95,0.75ZM0,-0.45L-0.53,0.5L0.53,0.5Z","M0,-0.95L0.95,0.75L-0.95,0.75Z","M-0.125,-1H0.125V-0.125H1V0.125H0.125V1H-0.125V0.125H-1V-0.125H-0.125Z"]}},
   "fill": {"field": "r", "type": "nominal", "title": ["", "Reference Panel"], "legend": {"symbolType": "M-1,-0.12H1V0.12H-1ZM0.55,0A0.55,0.55,0,1,1,-0.55,0A0.55,0.55,0,1,1,0.55,0Z", "symbolSize": 100, "titleLineHeight": 7}, "scale": {"domain": ["CEU","CHB.JPT","MEX","YRI"], "range": ["#ff0000","#000000","#0000ff","#1f9a1f"]}}
  }},
 {"data": {"name": "fit"}, "transform": [{"filter": "datum.p==6"}], "mark": {"type": "area", "color": "#808080", "opacity": 0.6, "interpolate": "monotone"}, "encoding": {"x": {"field": "x", "type": "quantitative", "title": null}, "y": {"field": "lo", "type": "quantitative", "title": null}, "y2": {"field": "hi"}}},
 {"data": {"name": "fit"}, "transform": [{"filter": "datum.p==6"}], "mark": {"type": "line", "color": "#3366ff", "strokeWidth": 1.1}, "encoding": {"x": {"field": "x", "type": "quantitative", "title": null}, "y": {"field": "f", "type": "quantitative", "title": null}}},
 {"data": {"name": "ann"}, "transform": [{"filter": "datum.p==6"}], "mark": {"type": "text", "fontSize": 12, "color": "#1a1a1a"}, "encoding": {"x": {"datum": 0.1095, "type": "quantitative", "title": null}, "y": {"datum": 91.45, "type": "quantitative", "title": null}, "text": {"field": "t"}}}
]}
],
"config": {
 "font": "Liberation Sans",
 "view": {"stroke": "#6a6aff", "strokeWidth": 2},
 "axis": {"domain": false, "grid": true, "gridColor": "#a0a0a0", "gridDash": [3, 3], "gridWidth": 1, "ticks": true, "tickColor": "#8c8c8c", "tickSize": 2.5, "labelColor": "#7f7f7f", "labelFont": "Liberation Sans", "labelFontStyle": "italic", "labelFontSize": 9.5, "labelPadding": 1, "labelBound": false, "titleFont": "Liberation Sans", "titleFontStyle": "italic", "titleFontWeight": "bold", "titleFontSize": 10, "titleColor": "black"},
 "axisX": {"titlePadding": 0.5},
 "axisY": {"titlePadding": -2},
 "legend": {"orient": "right", "offset": 11, "titleFont": "Liberation Sans", "titleFontSize": 9, "titleFontStyle": "italic", "titleFontWeight": "bold", "titleColor": "black", "titlePadding": 5, "labelFont": "Liberation Sans", "labelFontSize": 8, "labelFontWeight": "bold", "labelColor": "black", "symbolSize": 64, "symbolStrokeWidth": 0, "rowPadding": 6.5, "labelOffset": 6}
}
}
